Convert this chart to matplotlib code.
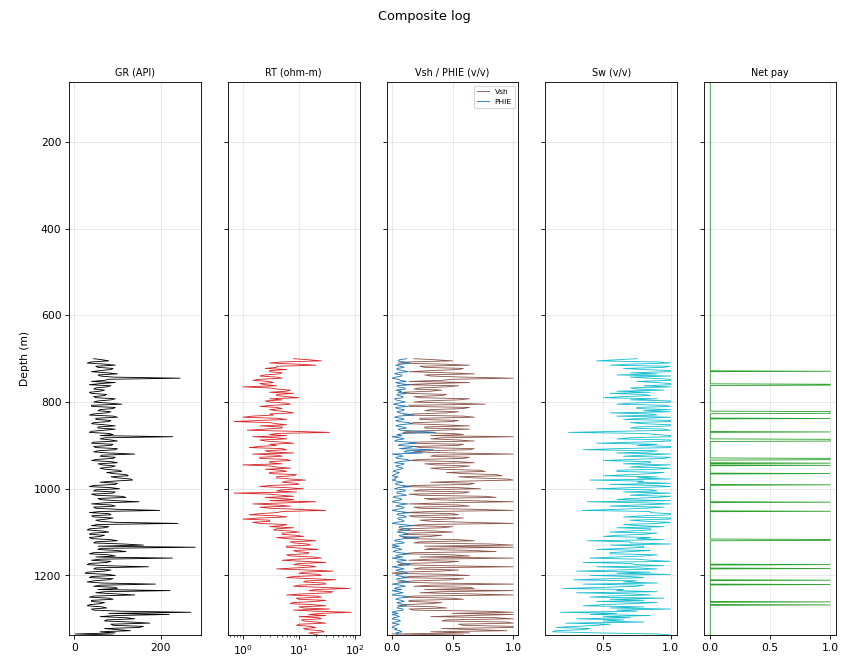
import matplotlib

matplotlib.use("Agg")
import matplotlib.pyplot as plt
import numpy as np

# log samples every 2.5 m starting at 700 m (one row = 40 m)
LOG_TOP = 700
LOG_STEP = 2.5

gr = [45, 65, 80, 40, 30, 70, 95, 50, 55, 90, 85, 60, 40, 75, 100, 55,
      60, 90, 245, 80, 70, 40, 95, 60, 35, 85, 75, 50, 45, 70, 60, 35,
      40, 75, 70, 45, 50, 95, 85, 55, 45, 80, 110, 40, 40, 95, 90, 60,
      55, 85, 75, 45, 35, 90, 100, 50, 50, 85, 80, 45, 40, 70, 95, 55,
      55, 95, 70, 40, 35, 80, 90, 60, 228, 70, 60, 85, 100, 45, 40, 90,
      85, 45, 50, 100, 95, 55, 45, 80, 140, 65, 60, 95, 90, 50, 40, 85,
      100, 55, 65, 95, 85, 60, 70, 105, 110, 75, 90, 120, 125, 85, 100, 130,
      135, 90, 60, 100, 95, 45, 35, 85, 105, 50, 45, 95, 90, 40, 50, 110,
      120, 55, 60, 95, 150, 70, 40, 85, 95, 45, 50, 100, 198, 60, 35, 80,
      85, 40, 45, 90, 75, 50, 60, 95, 240, 55, 40, 80, 70, 35, 30, 65,
      80, 40, 35, 70, 60, 35, 40, 85, 100, 50, 45, 115, 160, 55, 280, 60,
      55, 100, 120, 45, 35, 80, 95, 50, 227, 60, 40, 85, 75, 35, 30, 70,
      172, 50, 45, 85, 70, 30, 25, 75, 95, 40, 35, 90, 80, 45, 30, 65,
      188, 60, 45, 95, 100, 55, 222, 70, 50, 95, 140, 45, 35, 80, 90, 40,
      40, 70, 60, 35, 30, 65, 75, 40, 45, 110, 270, 80, 220, 95, 60, 120,
      140, 75, 70, 130, 175, 85, 90, 160, 150, 70, 100, 130, 60, 95, 2, 90]

rt = [8, 15, 25, 5, 3, 9, 20, 4, 4, 2.5, 6, 3, 3, 5, 4.5, 2.5,
      2, 4, 5, 2, 1.5, 3, 3.5, 2, 2.5, 4, 1.0, 3, 4, 7, 6, 3,
      8, 4, 4, 6, 10, 3, 5, 2.5, 3, 6, 7, 3.5, 2, 4, 5, 3,
      4, 6, 8, 3, 3.5, 1.5, 1.0, 4, 6, 2, 0.7, 3, 4, 6, 2, 5,
      5, 2.5, 1.2, 8, 35, 4, 3, 6, 1.5, 4, 6, 2, 2.5, 5, 8, 3,
      4, 2, 1.3, 5, 6, 2.5, 3, 8, 1.5, 4, 5, 2, 2, 6, 7, 3,
      3, 5, 1.0, 3, 4, 7, 2.5, 5, 6, 3, 3, 9, 8, 4, 4, 7,
      13, 6, 5, 9, 10, 3, 2, 6, 12, 5, 4, 9, 0.7, 3, 5, 8,
      2.5, 5, 8, 3, 20, 6, 1.5, 4, 7, 2, 3, 9, 30, 5, 4, 2,
      1.3, 4, 6, 2, 1.0, 3, 3, 1.5, 2, 6, 5, 3, 8, 4, 3.5, 7,
      10, 5, 5, 9, 12, 4, 6, 11, 20, 7, 8, 14, 16, 6, 6, 12,
      22, 8, 9, 15, 14, 6, 7, 18, 25, 9, 5, 12, 30, 10, 8, 15,
      20, 9, 4, 15, 40, 12, 10, 22, 25, 8, 6, 18, 45, 14, 12, 28,
      30, 10, 8, 25, 80, 20, 15, 40, 35, 12, 6, 20, 25, 9, 10, 30,
      20, 8, 7, 18, 30, 10, 12, 35, 8, 20, 85, 25, 15, 30, 10, 22,
      25, 11, 12, 20, 30, 10, 9, 16, 20, 12, 14, 25, 28, 15, 18, 22]

vsh = [0.18, 0.36, 0.50, 0.14, 0.05, 0.41, 0.64, 0.23, 0.27, 0.59, 0.55, 0.32, 0.14, 0.45, 0.68, 0.27,
       0.32, 0.59, 1.0, 0.50, 0.41, 0.14, 0.64, 0.32, 0.09, 0.55, 0.45, 0.23, 0.18, 0.41, 0.32, 0.09,
       0.14, 0.45, 0.41, 0.18, 0.23, 0.64, 0.55, 0.27, 0.18, 0.50, 0.77, 0.14, 0.14, 0.64, 0.59, 0.32,
       0.27, 0.55, 0.45, 0.18, 0.09, 0.59, 0.68, 0.23, 0.23, 0.55, 0.50, 0.18, 0.14, 0.41, 0.64, 0.27,
       0.27, 0.64, 0.41, 0.14, 0.09, 0.50, 0.59, 0.32, 1.0, 0.41, 0.32, 0.55, 0.68, 0.18, 0.14, 0.59,
       0.55, 0.18, 0.23, 0.68, 0.64, 0.27, 0.18, 0.50, 1.0, 0.36, 0.32, 0.64, 0.59, 0.23, 0.14, 0.55,
       0.68, 0.27, 0.36, 0.64, 0.55, 0.32, 0.41, 0.73, 0.77, 0.45, 0.59, 0.86, 0.91, 0.55, 0.68, 0.95,
       1.0, 0.59, 0.32, 0.68, 0.64, 0.18, 0.09, 0.55, 0.73, 0.23, 0.18, 0.64, 0.59, 0.14, 0.23, 0.77,
       0.86, 0.27, 0.32, 0.64, 1.0, 0.41, 0.14, 0.55, 0.64, 0.18, 0.23, 0.68, 1.0, 0.32, 0.09, 0.50,
       0.55, 0.14, 0.18, 0.59, 0.45, 0.23, 0.32, 0.64, 1.0, 0.27, 0.14, 0.50, 0.41, 0.09, 0.05, 0.36,
       0.50, 0.14, 0.09, 0.41, 0.32, 0.09, 0.14, 0.55, 0.68, 0.23, 0.18, 0.82, 1.0, 0.27, 1.0, 0.32,
       0.27, 0.68, 0.86, 0.18, 0.09, 0.50, 0.64, 0.23, 1.0, 0.32, 0.14, 0.55, 0.45, 0.09, 0.05, 0.41,
       1.0, 0.23, 0.18, 0.55, 0.41, 0.05, 0.0, 0.45, 0.64, 0.14, 0.09, 0.59, 0.50, 0.18, 0.05, 0.36,
       1.0, 0.32, 0.18, 0.64, 0.68, 0.27, 1.0, 0.41, 0.23, 0.64, 1.0, 0.18, 0.09, 0.50, 0.59, 0.14,
       0.14, 0.41, 0.32, 0.09, 0.05, 0.36, 0.45, 0.14, 0.18, 0.77, 1.0, 0.50, 1.0, 0.64, 0.32, 0.86,
       1.0, 0.45, 0.41, 0.95, 1.0, 0.55, 0.59, 1.0, 1.0, 0.41, 0.68, 0.95, 0.32, 0.64, 0.0, 0.59]

phie = [0.12, 0.06, 0.05, 0.10, 0.15, 0.08, 0.03, 0.07, 0.10, 0.04, 0.04, 0.09, 0.13, 0.05, 0.02, 0.08,
        0.08, 0.03, 0.0, 0.05, 0.07, 0.12, 0.03, 0.06, 0.14, 0.04, 0.05, 0.10, 0.11, 0.03, 0.08, 0.05,
        0.12, 0.04, 0.05, 0.09, 0.09, 0.02, 0.03, 0.07, 0.11, 0.05, 0.01, 0.06, 0.13, 0.03, 0.04, 0.10,
        0.09, 0.04, 0.06, 0.12, 0.18, 0.05, 0.02, 0.08, 0.10, 0.03, 0.05, 0.14, 0.16, 0.06, 0.03, 0.09,
        0.12, 0.05, 0.07, 0.22, 0.36, 0.10, 0.04, 0.08, 0.0, 0.06, 0.10, 0.04, 0.02, 0.15, 0.20, 0.07,
        0.05, 0.18, 0.14, 0.06, 0.34, 0.12, 0.10, 0.25, 0.0, 0.07, 0.09, 0.03, 0.04, 0.12, 0.15, 0.06,
        0.02, 0.10, 0.08, 0.03, 0.05, 0.09, 0.07, 0.02, 0.01, 0.06, 0.04, 0.02, 0.0, 0.05, 0.02, 0.03,
        0.0, 0.04, 0.09, 0.03, 0.03, 0.08, 0.15, 0.05, 0.02, 0.10, 0.11, 0.04, 0.04, 0.09, 0.12, 0.02,
        0.01, 0.07, 0.08, 0.03, 0.0, 0.05, 0.13, 0.06, 0.03, 0.10, 0.09, 0.04, 0.0, 0.06, 0.14, 0.05,
        0.04, 0.10, 0.12, 0.05, 0.05, 0.09, 0.10, 0.03, 0.0, 0.08, 0.18, 0.06, 0.06, 0.13, 0.15, 0.07,
        0.04, 0.12, 0.13, 0.06, 0.07, 0.22, 0.11, 0.04, 0.02, 0.08, 0.10, 0.03, 0.0, 0.06, 0.0, 0.05,
        0.08, 0.03, 0.01, 0.06, 0.14, 0.05, 0.03, 0.09, 0.0, 0.06, 0.12, 0.04, 0.05, 0.11, 0.15, 0.06,
        0.0, 0.06, 0.10, 0.03, 0.06, 0.11, 0.13, 0.05, 0.03, 0.09, 0.12, 0.04, 0.04, 0.10, 0.14, 0.06,
        0.0, 0.07, 0.11, 0.04, 0.02, 0.08, 0.0, 0.05, 0.09, 0.03, 0.0, 0.10, 0.13, 0.05, 0.03, 0.08,
        0.10, 0.04, 0.06, 0.11, 0.12, 0.05, 0.04, 0.09, 0.09, 0.03, 0.0, 0.05, 0.0, 0.04, 0.06, 0.02,
        0.0, 0.05, 0.07, 0.02, 0.0, 0.06, 0.03, 0.01, 0.0, 0.04, 0.02, 0.06, 0.08, 0.03, 0.05, 0.04]

sw = [0.75, 0.60, 0.45, 0.90, 1.0, 0.70, 0.55, 1.0, 0.95, 0.65, 0.80, 1.0, 1.0, 0.70, 0.90, 0.60,
      1.0, 0.70, 0.85, 1.0, 1.0, 0.75, 0.90, 1.0, 1.0, 0.80, 1.0, 0.70, 0.75, 0.95, 0.60, 0.85,
      0.55, 0.80, 0.85, 0.65, 0.50, 0.90, 0.70, 1.0, 1.0, 0.70, 0.60, 0.95, 1.0, 0.75, 0.75, 1.0,
      0.80, 1.0, 0.55, 0.85, 0.90, 0.60, 1.0, 0.80, 0.65, 1.0, 1.0, 0.70, 0.80, 1.0, 1.0, 0.75,
      0.70, 0.95, 1.0, 0.60, 0.24, 0.80, 0.90, 1.0, 1.0, 0.70, 0.60, 1.0, 1.0, 0.75, 0.45, 0.90,
      0.75, 1.0, 1.0, 0.60, 0.35, 0.90, 0.85, 0.60, 1.0, 0.80, 0.65, 1.0, 0.95, 0.70, 0.50, 0.85,
      0.85, 0.65, 1.0, 0.80, 0.70, 1.0, 0.90, 0.60, 0.60, 0.95, 0.85, 0.70, 0.50, 0.90, 0.75, 1.0,
      0.40, 0.80, 0.75, 1.0, 0.55, 0.90, 1.0, 0.70, 0.45, 0.85, 0.90, 0.65, 1.0, 0.80, 0.70, 1.0,
      0.90, 0.70, 0.60, 1.0, 0.38, 0.80, 1.0, 0.75, 0.55, 0.95, 0.80, 0.60, 0.34, 0.85, 0.85, 1.0,
      1.0, 0.80, 0.65, 1.0, 1.0, 0.70, 0.80, 1.0, 0.90, 0.65, 0.75, 0.95, 0.60, 0.85, 0.85, 0.70,
      0.55, 0.90, 0.80, 0.60, 0.50, 0.85, 0.75, 0.95, 0.38, 0.70, 0.70, 1.0, 0.55, 0.80, 0.80, 0.65,
      0.45, 0.85, 0.70, 0.55, 0.55, 0.90, 0.80, 0.60, 0.40, 0.75, 0.85, 1.0, 0.35, 0.70, 0.75, 0.95,
      0.45, 0.75, 0.90, 0.60, 0.30, 0.85, 0.60, 1.0, 0.40, 0.70, 0.80, 0.55, 0.28, 0.75, 0.65, 0.90,
      0.35, 0.80, 0.75, 0.50, 0.20, 0.65, 0.60, 0.90, 0.30, 0.70, 0.85, 0.55, 0.40, 0.95, 0.55, 0.80,
      0.45, 0.90, 0.70, 0.50, 0.35, 0.80, 0.55, 1.0, 0.60, 0.75, 0.18, 0.60, 0.40, 0.85, 0.50, 0.70,
      0.30, 0.65, 0.50, 0.80, 0.22, 0.55, 0.45, 0.30, 0.15, 0.40, 0.35, 0.14, 0.12, 0.45, 0.90, 1.0]

# net pay intervals (top, base) in m
pay_top = [729, 759, 822, 838, 869, 886, 930, 941, 946, 965,
           991, 1031, 1052, 1117, 1175, 1184, 1211, 1221, 1261, 1268]
pay_base = [729, 761, 826, 838, 869, 890, 933, 941, 946, 965,
            991, 1031, 1052, 1119, 1175, 1184, 1211, 1221, 1261, 1268]

DEPTH_MIN, DEPTH_MAX = 62, 1338


def main() -> None:
    depth = LOG_TOP + LOG_STEP * np.arange(len(gr))
    pay_depth = np.arange(DEPTH_MIN, DEPTH_MAX + 1, 1.0)
    pay = np.zeros_like(pay_depth)
    for t, b in zip(pay_top, pay_base):
        pay[(pay_depth >= t) & (pay_depth <= b)] = 1.0

    fig, axes = plt.subplots(1, 5, figsize=(11, 8.665), sharey=True)
    fig.subplots_adjust(left=0.0814, right=0.9858, top=0.877, bottom=0.049,
                        wspace=0.205)
    lw = 0.8

    ax = axes[0]
    ax.plot(gr, depth, color="black", lw=lw)
    ax.set_title("GR (API)", fontsize=9)
    ax.set_xlim(-12, 293)
    ax.set_xticks([0, 200])
    ax.set_ylabel("Depth (m)")

    ax = axes[1]
    ax.plot(rt, depth, color="tab:red", lw=lw)
    ax.set_xscale("log")
    ax.set_xlim(0.54, 120)
    ax.set_title("RT (ohm-m)", fontsize=9)

    ax = axes[2]
    ax.plot(vsh, depth, color="tab:brown", lw=lw, label="Vsh")
    ax.plot(phie, depth, color="tab:blue", lw=lw, label="PHIE")
    ax.set_xlim(-0.045, 1.045)
    ax.set_xticks([0, 0.5, 1.0])
    ax.set_title("Vsh / PHIE (v/v)", fontsize=9)
    ax.legend(loc="upper right", fontsize=7, handlelength=1.6)

    ax = axes[3]
    ax.plot(sw, depth, color="tab:cyan", lw=lw)
    ax.set_xlim(0.068, 1.05)
    ax.set_xticks([0.5, 1.0])
    ax.set_title("Sw (v/v)", fontsize=9)

    ax = axes[4]
    ax.plot(pay, pay_depth, color="tab:green", lw=lw)
    ax.set_xlim(-0.05, 1.05)
    ax.set_xticks([0, 0.5, 1.0])
    ax.set_title("Net pay", fontsize=9)

    for ax in axes:
        ax.grid(True, alpha=0.3)
    axes[0].set_ylim(DEPTH_MAX, DEPTH_MIN)

    fig.suptitle("Composite log", y=0.985)
    fig.savefig("out.png", dpi=77.1)


if __name__ == "__main__":
    main()
